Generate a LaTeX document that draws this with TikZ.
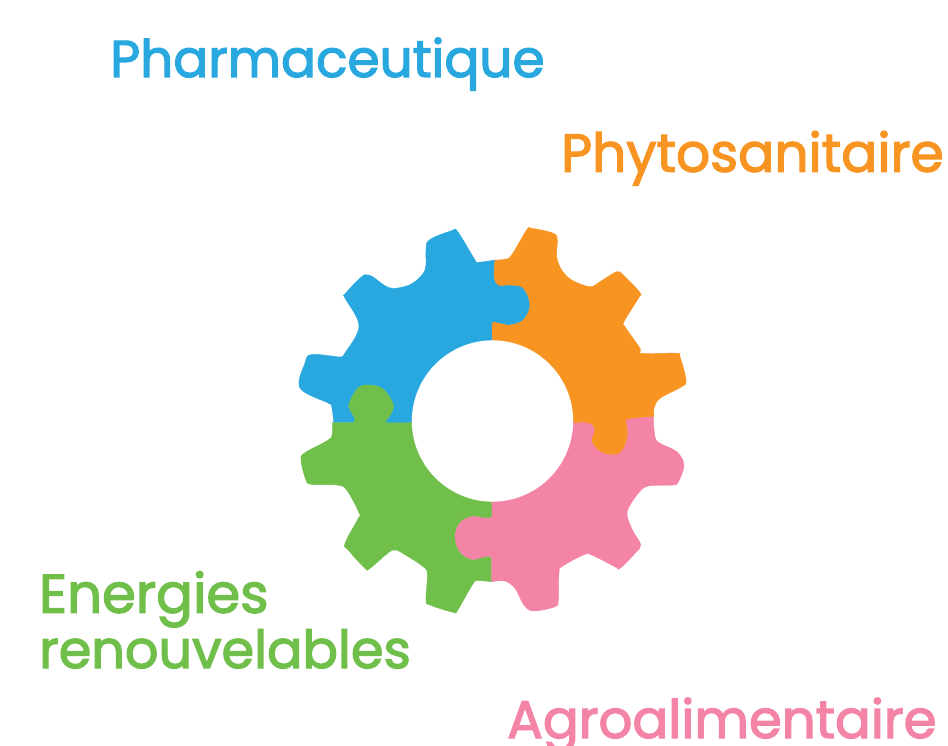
\documentclass[tikz,border=0pt]{standalone}
\usepackage{fontspec}
\newfontfamily\labelfont[FakeBold=2.4]{Poppins}
\definecolor{gblue}{HTML}{29A8E0}
\definecolor{gorange}{HTML}{F89522}
\definecolor{ggreen}{HTML}{70BF4B}
\definecolor{gpink}{HTML}{F484A5}
\tikzset{
  piece/.style={fill=#1,draw=#1,line width=0.4pt,line join=round},
  rim/.style={smooth,tension=0.6},
  hole/.style={smooth,samples=31},
  label/.style={inner sep=0pt,anchor=base west,text=#1},
}
\begin{document}
\begin{tikzpicture}[x=1pt,y=-1pt]
\useasboundingbox (0,0) rectangle (948,746);
% blue
\path[piece=gblue] plot[rim] coordinates {(333.7,422.7)(331.7,406.7)(328,403)(300,388)(305,363)(310.7,354.7)(331.7,356)(340,357)(345,353)(359,326)(345,298)(345,294)(361.7,276.7)(367.3,275)(373,277)(386.7,286.7)(398,288)(413,283)(425,270)(426,250)(429.3,240)(451.7,230.7)(457.7,231.7)(475,260)(478,262.3)(495,260)}
 -- plot[rim] coordinates {(495,260)(494.3,276.7)(498.3,285)(510,285)(523.3,288)(530,305)(523.3,320)(510,325)(498.3,323.3)(492.5,323.3)}
 -- plot[hole,domain=-90:-180] ({492.5+81*cos(\x)},{421+81*sin(\x)})
 -- plot[rim] coordinates {(411.5,422.7)(387,422.7)(386.7,420)(392,412)(392.7,403)(383,389)(369,385)(358,388)(349.3,403)(349.7,409)(355,419)(353.3,422.7)}
 -- cycle;
% orange
\path[piece=gorange] plot[rim] coordinates {(495,260)(505,259.3)(511.7,255)(526.7,230)(531.7,228.3)(553.3,233.3)(557.3,240)(556.7,256.7)(561.7,270)(571.7,280)(590,286.7)(600,281.7)(613.3,273.3)(618.3,271.7)(623.3,275)(640,292.7)(638.3,298.3)(624,321.7)(625,326.7)(640,348.3)(641.7,353.3)(676.7,353.3)(680,356.7)(686,380)(681.7,386.7)(660,398.3)(654,408.3)(654,416.7)}
 -- plot[rim] coordinates {(653.3,416.7)(628.3,419.3)(626.7,423.3)(627.7,436.7)(621.7,451.7)(611.7,455)(600,451.7)(591.7,441.7)(594.3,430)(591.7,425)(585,422.7)(574,423.3)}
 -- plot[hole,domain=0:-90] ({492.5+81*cos(\x)},{421+81*sin(\x)})
 -- plot[rim] coordinates {(492.5,340)(492.5,323.3)(498.3,323.3)(510,325)(523.3,320)(530,305)(523.3,288)(510,285)(498.3,285)(494.3,276.7)(495,260)}
 -- cycle;
% green
\path[piece=ggreen] plot[rim] coordinates {(332.3,422.7)(332.3,433.3)(328.3,440)(305,452.7)(301,460)(306,480)(311.7,484.3)(336.7,485)(346.7,490)(359.3,513.3)(358.3,518.3)(345,543.3)(348.3,550)(365,568.3)(370,568.3)(388.3,552.7)(395,550)(401.7,552.7)(423.3,566.7)(427.3,575)(426,600)(430,605)(453.3,612.3)(457.7,610)(473.3,583.3)(478.3,580.7)(491.7,581.7)}
 -- plot[rim] coordinates {(491.7,556.7)(485,556.7)(471.7,559.3)(460,551.7)(455,536.7)(460,523)(471.7,516.7)(485,518)(491.7,516.7)(491.7,502)}
 -- plot[hole,domain=90:180] ({492.5+81*cos(\x)},{421+81*sin(\x)})
 -- plot[rim] coordinates {(411.5,422.7)(387,422.7)(386.7,420)(392,412)(392.7,403)(383,389)(369,385)(358,388)(349.3,403)(349.7,409)(355,419)(353.3,422.7)}
 -- cycle;
% pink
\path[piece=gpink] plot[rim] coordinates {(653.3,416.7)(655,436.7)(660,443.3)(676.7,451.7)(684,465)(678.3,481.7)(673.3,485)(648.3,486)(638.3,493.3)(628.3,508.3)(627.7,518.3)(633.3,531.7)(640.7,545)(635,553.3)(620,568.3)(615,566.7)(591.7,555)(583.3,555)(561.7,566.7)(559,573.3)(558.3,600)(555,606.7)(535,611)(526.7,608.3)(521,600)(515,588.3)(505,581)(491.7,581.7)}
 -- plot[rim] coordinates {(491.7,556.7)(485,556.7)(471.7,559.3)(460,551.7)(455,536.7)(460,523)(471.7,516.7)(485,518)(491.7,516.7)(491.7,502)}
 -- plot[hole,domain=90:0] ({492.5+81*cos(\x)},{421+81*sin(\x)})
 -- plot[rim] coordinates {(574,423.3)(585,422.7)(591.7,425)(594.3,430)(591.7,441.7)(600,451.7)(611.7,455)(621.7,451.7)(627.7,436.7)(626.7,423.3)(628.3,419.3)(653.3,416.7)}
 -- cycle;
\node[label=gblue,font=\labelfont\fontsize{51.8}{56}\selectfont] (pharma) at (110,77) {Pharmaceutique};
\node[label=gorange,font=\labelfont\fontsize{53.5}{56}\selectfont] (phyto) at (561,171.7) {Phytosanitaire};
\node[label=ggreen,font=\labelfont\fontsize{54.5}{56}\selectfont] (energies) at (39,612.7) {Energies};
\node[label=ggreen,font=\labelfont\fontsize{52.5}{56}\selectfont] (renouv) at (39,668) {renouvelables};
\node[label=gpink,font=\labelfont\fontsize{53}{56}\selectfont] (agro) at (507,738) {Agroalimentaire};
\end{tikzpicture}
\end{document}
